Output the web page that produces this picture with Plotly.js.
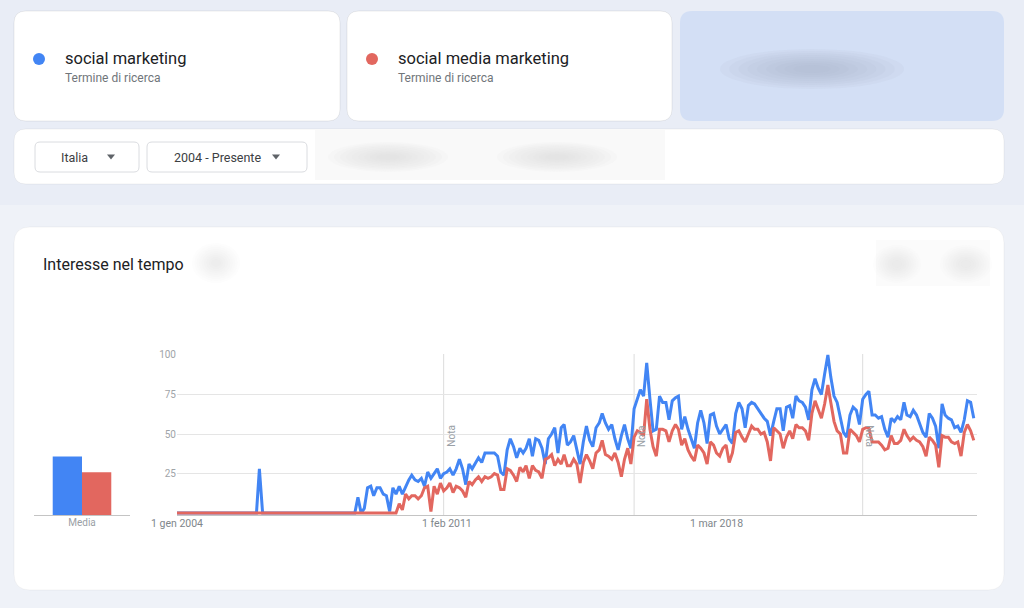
<!DOCTYPE html>
<html><head><meta charset="utf-8">
<script src="https://cdn.plot.ly/plotly-3.0.1.min.js"></script>
<style>html,body{margin:0;padding:0;background:#eff2f8;}#chart{width:1024px;height:608px;}</style>
</head><body><div id="chart"></div>
<script>
// ---------- data ----------
const terms = ['social marketing', 'social media marketing'];
const termSubtitle = 'Termine di ricerca';
const regionLabel = 'Italia';
const periodLabel = '2004 - Presente';
const panelTitle = 'Interesse nel tempo';
const startYear = 2004;
const socialMarketing = [
  0,0,0,0,0,0,0,0,0,0,
  0,0,0,0,0,0,0,0,0,0,
  0,0,0,0,0,0,28,0,0,0,
  0,0,0,0,0,0,0,0,0,0,
  0,0,0,0,0,0,0,0,0,0,
  0,0,0,0,0,0,0,10,0,3,
  16,17,11,16,16,12,11,1,16,12,
  17,12,17,21,24,21,20,22,17,26,
  22,25,28,22,25,26,28,24,28,34,
  28,18,31,28,32,35,32,38,38,38,
  38,36,26,24,40,47,42,35,41,38,
  41,47,36,47,46,41,31,47,50,54,
  38,54,56,43,45,49,41,31,45,55,
  46,42,54,57,63,57,53,56,47,40,
  49,56,47,41,66,73,78,74,95,72,
  52,53,74,70,70,59,71,73,74,53,
  61,53,47,41,57,65,57,44,62,63,
  55,50,53,56,47,44,63,70,66,54,
  68,70,69,66,63,60,58,49,58,66,
  66,52,67,68,60,74,71,70,67,59,
  78,85,79,75,88,100,86,74,70,61,
  51,48,62,67,65,56,72,75,77,62,
  62,60,61,53,48,60,58,61,59,70,
  62,61,65,62,57,51,48,63,60,55,
  41,69,62,60,59,54,55,51,59,71,
  70,60
];
const socialMediaMarketing = [
  0,0,0,0,0,0,0,0,0,0,
  0,0,0,0,0,0,0,0,0,0,
  0,0,0,0,0,0,0,0,0,0,
  0,0,0,0,0,0,0,0,0,0,
  0,0,0,0,0,0,0,0,0,0,
  0,0,0,0,0,0,0,0,0,0,
  0,0,0,0,0,0,0,0,0,0,
  6,2,12,9,11,11,9,11,16,17,
  1,17,12,19,14,16,19,13,17,16,
  14,10,20,18,21,23,20,23,22,23,
  25,24,15,15,28,27,24,20,29,26,
  30,22,30,27,26,22,34,35,37,30,
  34,31,37,30,30,34,31,19,32,37,
  33,28,38,40,46,37,36,34,38,32,
  23,34,41,31,48,52,51,49,72,53,
  42,36,53,53,52,45,52,56,53,43,
  47,40,36,33,43,41,38,31,45,43,
  38,36,41,43,32,38,51,52,48,45,
  50,55,53,53,50,51,45,33,54,52,
  50,41,48,52,47,56,54,54,52,46,
  63,71,65,60,69,81,70,58,52,50,
  38,38,53,51,49,45,53,54,54,45,
  45,45,43,40,41,49,44,44,46,53,
  49,46,48,46,45,42,36,48,46,43,
  29,49,48,48,45,44,45,36,51,56,
  52,46
];
const averageLabel = 'Media';
const averages = [37, 27];
const yTickValues = [25, 50, 75, 100];
const xTickDates = ['2004-01-01', '2011-02-01', '2018-03-01'];
const xTickLabels = ['1 gen 2004', '1 feb 2011', '1 mar 2018'];
const noteDates = ['2011-01-01', '2016-01-01', '2022-01-01'];
const noteLabel = 'Nota';

// ---------- helpers ----------
const W = 1024, H = 608;
const X = px => px / W;
const Y = py => 1 - py / H;
const BLUE = '#4285f4', RED = '#e2675f';
const dates = socialMarketing.map((_, i) => {
  const y = startYear + Math.floor(i / 12), m = (i % 12) + 1;
  return y + '-' + String(m).padStart(2, '0') + '-01';
});
function rr(x0, y0, x1, y1, r) {
  const p = (x, y) => X(x) + ',' + Y(y);
  return 'M' + p(x0 + r, y0) + ' L' + p(x1 - r, y0) + ' Q' + p(x1, y0) + ' ' + p(x1, y0 + r) +
    ' L' + p(x1, y1 - r) + ' Q' + p(x1, y1) + ' ' + p(x1 - r, y1) +
    ' L' + p(x0 + r, y1) + ' Q' + p(x0, y1) + ' ' + p(x0, y1 - r) +
    ' L' + p(x0, y0 + r) + ' Q' + p(x0, y0) + ' ' + p(x0 + r, y0) + ' Z';
}
const shapes = [];
function box(x0, y0, x1, y1, r, fill, line, lw) {
  shapes.push({type: 'path', xref: 'paper', yref: 'paper', layer: 'below', path: rr(x0, y0, x1, y1, r),
    fillcolor: fill, line: {color: line || 'rgba(0,0,0,0)', width: lw || 0}});
}
function ell(cx, cy, rx, ry, fill, op) {
  shapes.push({type: 'circle', xref: 'paper', yref: 'paper', layer: 'below',
    x0: X(cx - rx), x1: X(cx + rx), y0: Y(cy + ry), y1: Y(cy - ry),
    fillcolor: fill, opacity: op, line: {width: 0}});
}
function blur(cx, cy, rx, ry, fill, op) {
  for (let k = 0; k < 9; k++) {
    const f = 1 - k * 0.1;
    ell(cx, cy, rx * f, ry * f, fill, op);
  }
}
function tri(cx, cy) {
  const p = (x, y) => X(x) + ',' + Y(y);
  shapes.push({type: 'path', xref: 'paper', yref: 'paper', layer: 'below',
    path: 'M' + p(cx - 4, cy - 2.5) + ' L' + p(cx + 4, cy - 2.5) + ' L' + p(cx, cy + 2.5) + ' Z',
    fillcolor: '#5f6368', line: {width: 0}});
}

// background bands
shapes.push({type: 'rect', xref: 'paper', yref: 'paper', layer: 'below', x0: 0, x1: 1, y0: Y(205), y1: 1,
  fillcolor: '#e9edf6', line: {width: 0}});
// top cards
box(14, 11, 340, 121, 12, '#ffffff', 'rgba(0,0,0,0.07)', 1);
box(347, 11, 672, 121, 12, '#ffffff', 'rgba(0,0,0,0.07)', 1);
box(680, 11, 1004, 121, 12, '#d3dff5');
blur(812, 69, 92, 20, '#aab5cc', 0.09);
// filter bar
box(14, 129, 1004, 184, 12, '#ffffff', 'rgba(0,0,0,0.05)', 1);
box(35, 142, 139, 172, 5, '#ffffff', '#dadce0', 1);
box(147, 142, 307, 172, 5, '#ffffff', '#dadce0', 1);
tri(111, 157);
tri(276, 157);
shapes.push({type: 'rect', xref: 'paper', yref: 'paper', layer: 'below', x0: X(315), x1: X(665), y0: Y(180), y1: Y(130),
  fillcolor: '#f9f9f9', line: {width: 0}});
blur(388, 157, 60, 15, '#d0d0d0', 0.07);
blur(557, 157, 60, 15, '#d0d0d0', 0.07);
// main card
box(14, 227, 1004, 590, 16, '#ffffff', 'rgba(0,0,0,0.04)', 1);
blur(216, 263, 24, 20, '#dcdcdc', 0.06);
shapes.push({type: 'rect', xref: 'paper', yref: 'paper', layer: 'below', x0: X(876), x1: X(990), y0: Y(286), y1: Y(240),
  fillcolor: '#fbfbfb', line: {width: 0}});
blur(897, 264, 24, 19, '#d8d8d8', 0.06);
blur(966, 264, 26, 19, '#d8d8d8', 0.06);
// legend dots
ell(39, 59, 6, 6, BLUE, 1);
ell(372, 59, 6, 6, RED, 1);
// note lines
noteDates.forEach(d => shapes.push({type: 'line', xref: 'x', yref: 'y', layer: 'below',
  x0: d, x1: d, y0: -1.2, y1: 100.6, line: {color: '#dcdcdc', width: 1}}));

const FONT = 'Roboto, Arial, sans-serif';
const annotations = [];
function txt(x, y, text, size, color, extra) {
  annotations.push(Object.assign({xref: 'paper', yref: 'paper', x: X(x), y: Y(y), text: text, showarrow: false,
    xanchor: 'left', yanchor: 'middle', font: {family: FONT, size: size, color: color}}, extra || {}));
}
txt(63, 58, terms[0], 16.5, '#202124');
txt(63, 78, termSubtitle, 12, '#70757a');
txt(396, 58, terms[1], 16.5, '#202124');
txt(396, 78, termSubtitle, 12, '#70757a');
txt(59, 157, regionLabel, 12.5, '#3c4043');
txt(172, 157, periodLabel, 12.5, '#3c4043');
txt(41, 264, panelTitle, 16, '#202124');
noteDates.forEach((d, k) => annotations.push({xref: 'x', yref: 'paper', x: d, y: Y(436), xshift: 7,
  text: noteLabel, showarrow: false, textangle: k === 2 ? 90 : -90, xanchor: 'center', yanchor: 'middle',
  font: {family: FONT, size: 10, color: '#9aa0a6'}}));

const traces = [
  {type: 'scatter', mode: 'lines', x: dates, y: socialMarketing, name: terms[0],
    line: {color: BLUE, width: 3}, xaxis: 'x', yaxis: 'y', hoverinfo: 'skip'},
  {type: 'scatter', mode: 'lines', x: dates, y: socialMediaMarketing, name: terms[1],
    line: {color: RED, width: 3}, xaxis: 'x', yaxis: 'y', hoverinfo: 'skip'},
  {type: 'bar', x: [averageLabel], y: [averages[0]], name: terms[0], marker: {color: BLUE}, xaxis: 'x2', yaxis: 'y2'},
  {type: 'bar', x: [averageLabel], y: [averages[1]], name: terms[1], marker: {color: RED}, xaxis: 'x2', yaxis: 'y2'}
];

const layout = {
  width: W, height: H,
  margin: {l: 0, r: 0, t: 0, b: 0, pad: 0},
  paper_bgcolor: '#eff2f8', plot_bgcolor: 'rgba(0,0,0,0)',
  showlegend: false,
  font: {family: FONT},
  barmode: 'group', bargap: 0.39, bargroupgap: 0,
  xaxis: {domain: [X(177), X(977)], type: 'date', range: ['2004-01-01', '2025-01-01'],
    tickmode: 'array', tickvals: xTickDates, ticktext: xTickLabels, showgrid: false, zeroline: false,
    showline: true, linecolor: '#c4c4c4', linewidth: 1, ticks: '', anchor: 'y', ticklabelstandoff: -2,
    tickfont: {family: FONT, size: 10.5, color: '#80868b'}},
  yaxis: {domain: [Y(515), Y(354)], range: [-1.2, 100.6], tickmode: 'array', tickvals: yTickValues,
    showgrid: true, gridcolor: '#e5e5e5', gridwidth: 1, zeroline: false, showline: false, ticks: '',
    anchor: 'x', tickfont: {family: FONT, size: 10, color: '#a0a4a8'}},
  xaxis2: {domain: [X(34), X(130)], type: 'category', anchor: 'y2', showgrid: false, zeroline: false,
    showline: true, linecolor: '#c4c4c4', linewidth: 1, ticks: '', ticklabelstandoff: -2,
    tickfont: {family: FONT, size: 10, color: '#9aa0a6'}},
  yaxis2: {domain: [Y(515), Y(354)], range: [0, 101.8], anchor: 'x2', showgrid: false, zeroline: false,
    showline: false, showticklabels: false, ticks: ''},
  shapes: shapes,
  annotations: annotations
};
Plotly.newPlot('chart', traces, layout, {staticPlot: true, displayModeBar: false});
</script>
</body></html>
